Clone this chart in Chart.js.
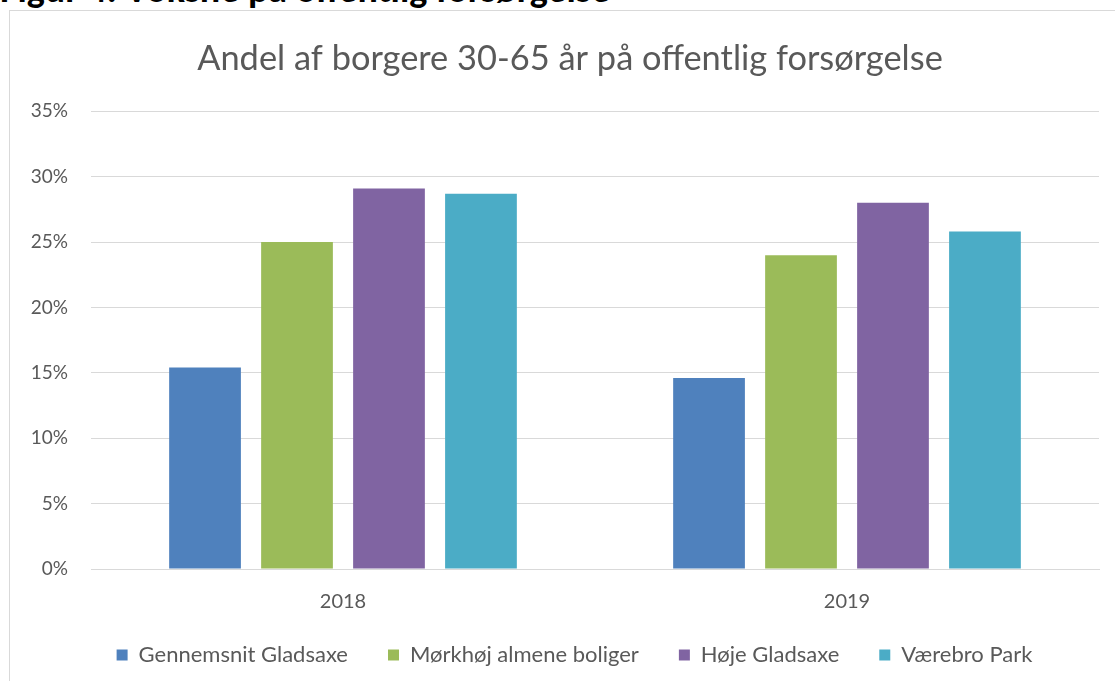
<!DOCTYPE html>
<html><head><meta charset="utf-8">
<script src="https://cdn.jsdelivr.net/npm/chart.js@4.4.1/dist/chart.umd.min.js"></script>
<style>
html,body{margin:0;padding:0;background:#fff;overflow:hidden;width:1115px;height:681px;}
#cap{position:absolute;left:0;top:-30px;font-family:Carlito,Lato,"Open Sans",sans-serif;font-weight:bold;font-size:38px;color:#000;white-space:nowrap;line-height:38px;}
#frame{position:absolute;left:9px;top:10px;width:1200px;height:800px;border:1px solid #d9d9d9;box-sizing:border-box;}
#wrap{position:absolute;left:0;top:0;width:1115px;height:681px;}
</style></head>
<body>
<div id="cap">Figur 4: Voksne på offentlig forsørgelse</div>
<div id="frame"></div>
<div id="wrap"><canvas id="c" width="1115" height="681"></canvas></div>
<script>
const categories = ["2018", "2019"];
const seriesNames = ["Gennemsnit Gladsaxe", "Mørkhøj almene boliger", "Høje Gladsaxe", "Værebro Park"];
const gennemsnit = [15.4, 14.6];
const morkhoj = [25.0, 24.0];
const hojeGladsaxe = [29.1, 28.0];
const vaerebro = [28.7, 25.8];
const colors = ["#4f81bd", "#9bbb59", "#8064a2", "#4bacc6"];
const yTicks = [0, 5, 10, 15, 20, 25, 30, 35];
const titleText = "Andel af borgere 30-65 år på offentlig forsørgelse";

const values = [gennemsnit, morkhoj, hojeGladsaxe, vaerebro];
const font = "Lato, 'Open Sans', sans-serif";
const recenter = {
  id: 'recenter',
  afterLayout(chart) {
    if (chart.titleBlock) chart.titleBlock.left = 41;
    if (chart.legend) { chart.legend.left = 50; chart.legend.top -= 10; }
  }
};
new Chart(document.getElementById('c'), {
  type: 'bar',
  data: {
    labels: categories,
    datasets: seriesNames.map((n, i) => ({
      label: n, data: values[i], backgroundColor: colors[i],
      borderWidth: 0, categoryPercentage: 0.73, barPercentage: 0.78
    }))
  },
  plugins: [recenter],
  options: {
    responsive: false, animation: false, devicePixelRatio: 1,
    layout: { padding: { left: 9, right: 16, top: 38, bottom: 5 } },
    plugins: {
      title: { display: true, text: titleText, color: '#595959',
        font: { family: font, size: 34.4, weight: 'normal' }, padding: { top: 0, bottom: 32 } },
      legend: { position: 'bottom', maxHeight: 62, labels: { color: '#595959', boxWidth: 11, boxHeight: 11,
        padding: 40, font: { family: font, size: 22 } } },
      tooltip: { enabled: false }
    },
    scales: {
      x: { grid: { display: false, drawTicks: false }, border: { color: '#d9d9d9' },
        afterFit: s => { s.height -= 21; },
        ticks: { color: '#595959', font: { family: font, size: 20 }, padding: 21 } },
      y: { min: 0, max: 35, afterBuildTicks: a => { a.ticks = yTicks.map(v => ({ value: v })); },
        afterFit: s => { s.width = 82; },
        grid: { color: '#d9d9d9', drawTicks: false }, border: { display: false },
        ticks: { color: '#595959', font: { family: font, size: 19 }, padding: 23,
          callback: v => v + '%' } }
    }
  }
});
</script>
</body></html>
